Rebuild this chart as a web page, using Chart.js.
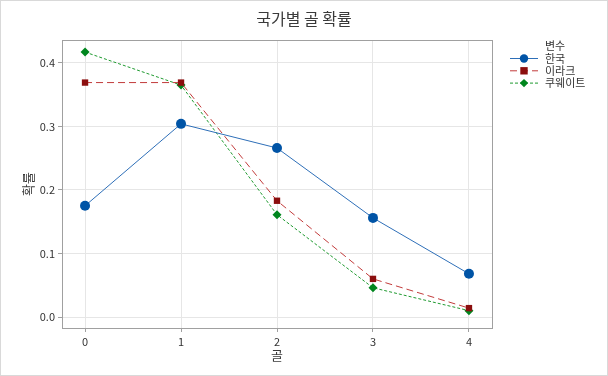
<!DOCTYPE html>
<html><head><meta charset="utf-8">
<script src="https://cdn.jsdelivr.net/npm/chart.js@4"></script>
<style>html,body{margin:0;padding:0;background:#fff}#w{width:608px;height:376px;position:relative}</style>
</head><body><div id="w"><canvas id="c" width="608" height="376"></canvas></div>
<script>
const goals = [0, 1, 2, 3, 4];
const korea = [0.175, 0.304, 0.266, 0.156, 0.068];
const iraq = [0.369, 0.369, 0.183, 0.060, 0.014];
const kuwait = [0.417, 0.365, 0.161, 0.046, 0.010];
const seriesNames = ['한국', '이라크', '쿠웨이트'];
const xTicks = [0, 1, 2, 3, 4];
const yTicks = [0.0, 0.1, 0.2, 0.3, 0.4];
const chartTitle = '국가별 골 확률';
const xTitle = '골';
const yTitle = '확률';
const legendTitle = '변수';

const FONT = "'Noto Sans CJK KR', 'Noto Sans', sans-serif";
const toPts = arr => goals.map((g, i) => ({x: g, y: arr[i]}));

const deco = {
  id: 'deco',
  afterDraw(chart) {
    const ctx = chart.ctx, a = chart.chartArea;
    ctx.save();
    ctx.strokeStyle = '#d9d9d9'; ctx.lineWidth = 1;
    ctx.strokeRect(0.5, 0.5, 607, 375);
    ctx.strokeStyle = '#a0a0a0';
    ctx.strokeRect(Math.round(a.left) + 0.5, Math.round(a.top) + 0.5, Math.round(a.right - a.left), Math.round(a.bottom - a.top));
    ctx.fillStyle = '#3a3a3a';
    ctx.textAlign = 'center'; ctx.textBaseline = 'middle';
    ctx.font = '16px ' + FONT;
    ctx.fillText(chartTitle, 304, 19);
    ctx.font = '13px ' + FONT;
    ctx.fillText(xTitle, (a.left + a.right) / 2, 355);
    ctx.save();
    ctx.translate(28, (a.top + a.bottom) / 2);
    ctx.rotate(-Math.PI / 2);
    ctx.fillText(yTitle, 0, 0);
    ctx.restore();
    ctx.font = '11px ' + FONT;
    ctx.textAlign = 'left';
    ctx.fillStyle = '#333';
    ctx.fillText(legendTitle, 545, 46);
    chart.data.datasets.forEach((ds, i) => {
      const y = 58 + i * 12.3;
      ctx.strokeStyle = ds.borderColor; ctx.lineWidth = 1;
      ctx.setLineDash(ds.borderDash || []);
      ctx.beginPath(); ctx.moveTo(510, y + 0.5); ctx.lineTo(538, y + 0.5); ctx.stroke();
      ctx.setLineDash([]);
      ctx.fillStyle = ds.pointBackgroundColor;
      const r = ds.pointRadius - 0.8;
      ctx.beginPath();
      if (ds.pointStyle === 'circle') { ctx.arc(524, y + 0.5, r, 0, Math.PI * 2); }
      else if (ds.pointStyle === 'rect') { ctx.rect(524 - r, y + 0.5 - r, 2 * r, 2 * r); }
      else { ctx.moveTo(524, y - r); ctx.lineTo(524 + r + 0.5, y + 0.5); ctx.lineTo(524, y + 1 + r); ctx.lineTo(524 - r - 0.5, y + 0.5); ctx.closePath(); }
      ctx.fill();
      ctx.fillStyle = '#333';
      ctx.fillText(ds.label, 545, y + 0.5);
    });
    ctx.restore();
  }
};

new Chart(document.getElementById('c'), {
  type: 'line',
  data: {
    datasets: [
      {label: seriesNames[0], data: toPts(korea), borderColor: '#2e6fb8', borderWidth: 1,
       pointStyle: 'circle', pointRadius: 5, pointBackgroundColor: '#0054a6', pointBorderColor: '#0054a6', pointBorderWidth: 0},
      {label: seriesNames[1], data: toPts(iraq), borderColor: '#c23b3b', borderWidth: 1, borderDash: [7, 4],
       pointStyle: 'rect', pointRadius: 4.5, pointBackgroundColor: '#8b0e0e', pointBorderColor: '#8b0e0e', pointBorderWidth: 0},
      {label: seriesNames[2], data: toPts(kuwait), borderColor: '#1f9a30', borderWidth: 1, borderDash: [3, 2],
       pointStyle: 'rectRot', pointRadius: 4.5, pointBackgroundColor: '#00861e', pointBorderColor: '#00861e', pointBorderWidth: 0}
    ]
  },
  options: {
    responsive: false, animation: false, devicePixelRatio: 1,
    layout: {padding: {left: 0, top: 40, right: 116, bottom: 0}},
    plugins: {legend: {display: false}, title: {display: false}, tooltip: {enabled: false}},
    scales: {
      x: {type: 'linear', min: -0.24, max: 4.24,
        afterBuildTicks: s => { s.ticks = xTicks.map(v => ({value: v})); },
        afterFit: s => { s.height = 48; },
        grid: {color: '#e6e6e6', tickLength: 4, tickColor: '#a0a0a0', drawOnChartArea: true},
        border: {display: false},
        ticks: {color: '#333', font: {family: FONT, size: 11}, padding: 3, maxRotation: 0,
          callback: v => String(v)}
      },
      y: {type: 'linear', min: -0.0173, max: 0.436,
        afterBuildTicks: s => { s.ticks = yTicks.map(v => ({value: v})); },
        afterFit: s => { s.width = 62; },
        grid: {color: '#e6e6e6', tickLength: 4, tickColor: '#a0a0a0'},
        border: {display: false},
        ticks: {color: '#333', font: {family: FONT, size: 11}, padding: 3,
          callback: v => v.toFixed(1)}
      }
    }
  },
  plugins: [deco]
});
</script>
</body></html>
